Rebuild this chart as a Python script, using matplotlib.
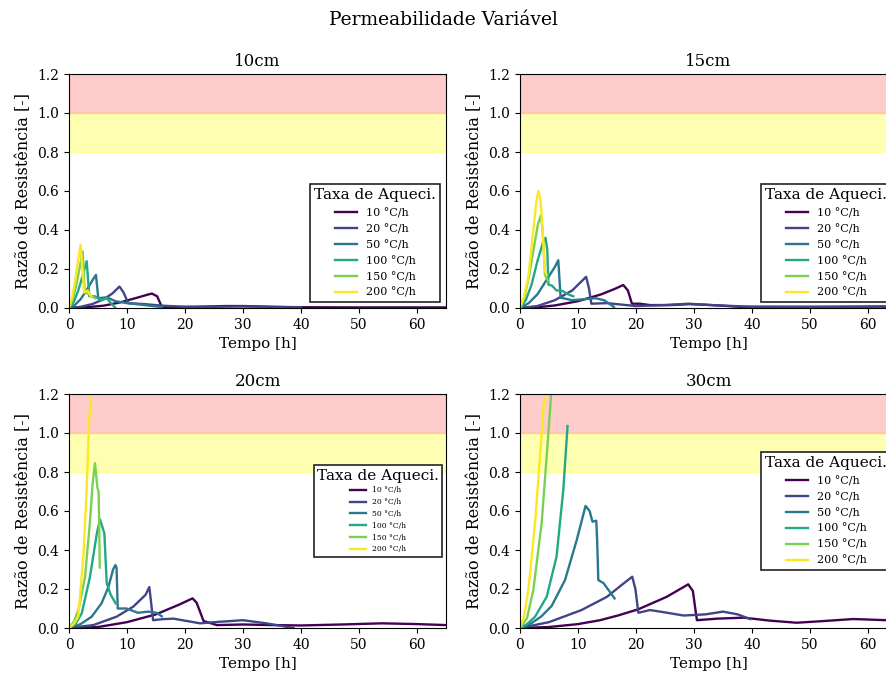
import numpy as np
import matplotlib
matplotlib.use("Agg")
import matplotlib.pyplot as plt

plt.rcParams['font.family'] = ['DejaVu Serif']

rates = ["10 °C/h", "20 °C/h", "50 °C/h", "100 °C/h", "150 °C/h", "200 °C/h"]
panel_titles = ["10cm", "15cm", "20cm", "30cm"]
suptitle = "Permeabilidade Variável"
xlabel = "Tempo [h]"
ylabel = "Razão de Resistência [-]"
legend_title = "Taxa de Aqueci."

# ---- 10cm ----
t10_10 = [0, 3, 6, 9, 12, 13.5, 14.3, 15.2, 16.0, 18, 22, 27, 30, 35, 40, 50, 65]
r10_10 = [0, 0.004, 0.012, 0.03, 0.055, 0.068, 0.074, 0.06, 0.006, 0.005, 0.006, 0.01, 0.01, 0.006, 0.004, 0.003, 0.003]
t10_20 = [0, 2, 4, 6, 7.5, 8.7, 9.4, 10.2, 13, 16, 20, 25, 30, 40]
r10_20 = [0, 0.006, 0.02, 0.045, 0.075, 0.11, 0.08, 0.025, 0.02, 0.012, 0.006, 0.006, 0.008, 0.003]
t10_50 = [0, 1, 2, 3, 4, 4.65, 5.05, 6.5, 8, 10, 13, 16]
r10_50 = [0, 0.015, 0.045, 0.09, 0.14, 0.17, 0.05, 0.055, 0.035, 0.025, 0.015, 0.005]
t10_100 = [0, 0.8, 1.6, 2.4, 3.05, 3.5, 4.5, 5.5, 6.5, 8.0]
r10_100 = [0, 0.03, 0.09, 0.17, 0.24, 0.06, 0.06, 0.04, 0.05, 0.0]
t10_150 = [0, 0.6, 1.2, 1.8, 2.36, 2.7, 3.5, 4.5]
r10_150 = [0, 0.04, 0.11, 0.2, 0.29, 0.08, 0.07, 0.05]
t10_200 = [0, 0.5, 1.0, 1.5, 2.0, 2.6, 3.2, 3.8]
r10_200 = [0, 0.05, 0.13, 0.23, 0.325, 0.08, 0.09, 0.06]

# ---- 15cm ----
t15_10 = [0, 3, 6, 10, 14, 16.5, 17.8, 18.6, 19.3, 20.7, 22.4, 26, 29.3, 33, 38, 50, 63, 65]
r15_10 = [0, 0.004, 0.013, 0.035, 0.07, 0.1, 0.118, 0.09, 0.022, 0.022, 0.015, 0.015, 0.02, 0.015, 0.006, 0.006, 0.008, 0.008]
t15_20 = [0, 3, 6, 9, 11.4, 11.9, 12.3, 15, 20, 25, 29, 33, 40, 65]
r15_20 = [0, 0.01, 0.04, 0.09, 0.16, 0.1, 0.022, 0.025, 0.01, 0.015, 0.022, 0.015, 0.006, 0.004]
t15_50 = [0, 1.5, 3, 4.5, 6.0, 6.6, 7.0, 9, 11, 13, 14.5, 16.2]
r15_50 = [0, 0.025, 0.07, 0.14, 0.21, 0.245, 0.053, 0.04, 0.045, 0.05, 0.04, 0.005]
t15_100 = [0, 1, 2, 3, 4.0, 4.4, 4.7, 4.9, 5.5, 6.3, 7.3, 8.3, 9.2]
r15_100 = [0, 0.04, 0.12, 0.24, 0.34, 0.36, 0.3, 0.12, 0.115, 0.09, 0.088, 0.07, 0.06]
t15_150 = [0, 0.8, 1.6, 2.4, 3.1, 3.6, 3.9, 4.3, 4.8]
r15_150 = [0, 0.06, 0.17, 0.31, 0.43, 0.475, 0.4, 0.17, 0.14]
t15_200 = [0, 0.7, 1.44, 2.3, 2.8, 3.16, 3.5, 3.74, 4.3, 4.6]
r15_200 = [0, 0.06, 0.16, 0.40, 0.54, 0.60, 0.56, 0.48, 0.19, 0.17]

# ---- 20cm ----
t20_10 = [0, 5, 10, 15, 19, 21.3, 22.0, 23.2, 25.5, 30, 35, 40, 47, 54, 60, 65]
r20_10 = [0, 0.005, 0.03, 0.07, 0.12, 0.152, 0.13, 0.036, 0.015, 0.018, 0.015, 0.013, 0.018, 0.024, 0.02, 0.015]
t20_20 = [0, 4.2, 8.2, 11.1, 13.2, 13.85, 14.5, 16, 18, 22.6, 26, 30, 34, 38.7]
r20_20 = [0, 0.015, 0.058, 0.11, 0.17, 0.21, 0.04, 0.045, 0.048, 0.024, 0.032, 0.04, 0.024, 0.0]
t20_50 = [0, 2, 3.9, 5.6, 6.8, 7.6, 8.0, 8.2, 8.4, 9.9, 11.9, 13.7, 15.1, 16.0]
r20_50 = [0, 0.02, 0.058, 0.126, 0.21, 0.3, 0.323, 0.31, 0.1, 0.1, 0.078, 0.084, 0.078, 0.06]
t20_100 = [0, 1.2, 2.2, 3.6, 4.8, 5.34, 6.1, 6.5, 7.2, 8.05]
r20_100 = [0, 0.025, 0.075, 0.26, 0.485, 0.557, 0.485, 0.23, 0.17, 0.126]
t20_150 = [0, 0.8, 1.6, 2.76, 3.6, 4.1, 4.48, 4.9, 5.1, 5.2, 5.3]
r20_150 = [0, 0.03, 0.09, 0.26, 0.54, 0.75, 0.845, 0.72, 0.70, 0.55, 0.31]
t20_200 = [0, 0.8, 1.6, 2.47, 3.05, 3.45, 3.8, 4.0]
r20_200 = [0, 0.02, 0.058, 0.366, 0.71, 1.05, 1.19, 1.3]

# ---- 30cm ----
t30_10 = [0, 5, 10, 13.8, 17, 20.4, 25.3, 28.2, 29.0, 29.8, 30.5, 34, 38.6, 43, 47.7, 52, 57.5, 63.2, 66]
r30_10 = [0, 0.005, 0.02, 0.04, 0.065, 0.096, 0.16, 0.21, 0.224, 0.19, 0.04, 0.048, 0.053, 0.038, 0.027, 0.035, 0.046, 0.04, 0.04]
t30_20 = [0, 5, 10.6, 15, 17.5, 19.35, 19.9, 20.4, 22.4, 25, 28.2, 32, 35, 37.5, 39.7]
r30_20 = [0, 0.03, 0.092, 0.16, 0.22, 0.263, 0.2, 0.078, 0.092, 0.08, 0.064, 0.07, 0.084, 0.07, 0.046]
t30_50 = [0, 2, 3.7, 5.46, 7.76, 9.77, 11.3, 12.0, 12.5, 13.15, 13.3, 13.5, 14.4, 16.3]
r30_50 = [0, 0.025, 0.06, 0.113, 0.246, 0.45, 0.626, 0.6, 0.545, 0.55, 0.45, 0.246, 0.23, 0.152]
t30_100 = [0, 1.2, 2.6, 4.6, 6.3, 7.47, 8.2]
r30_100 = [0, 0.02, 0.058, 0.16, 0.366, 0.71, 1.036]
t30_150 = [0, 1.2, 2.3, 3.74, 4.6, 5.35, 5.6]
r30_150 = [0, 0.05, 0.195, 0.54, 0.88, 1.19, 1.3]
t30_200 = [0, 0.7, 1.44, 2.6, 3.45, 4.2, 4.4]
r30_200 = [0, 0.06, 0.195, 0.54, 0.88, 1.19, 1.3]

panels = [
    [(t10_10, r10_10), (t10_20, r10_20), (t10_50, r10_50), (t10_100, r10_100), (t10_150, r10_150), (t10_200, r10_200)],
    [(t15_10, r15_10), (t15_20, r15_20), (t15_50, r15_50), (t15_100, r15_100), (t15_150, r15_150), (t15_200, r15_200)],
    [(t20_10, r20_10), (t20_20, r20_20), (t20_50, r20_50), (t20_100, r20_100), (t20_150, r20_150), (t20_200, r20_200)],
    [(t30_10, r30_10), (t30_20, r30_20), (t30_50, r30_50), (t30_100, r30_100), (t30_150, r30_150), (t30_200, r30_200)],
]

colors = plt.cm.viridis(np.linspace(0, 1, len(rates)))

W, H = 887, 677
fig = plt.figure(figsize=(W / 100, H / 100), dpi=100)

boxes = [(69, 74), (520, 74), (69, 394), (520, 394)]
aw, ah = 377, 234
legend_locs = ["lower right", "lower right", "center right", "center right"]
legend_fs = [8, 8, 5.5, 8]

for i, (x0, y0) in enumerate(boxes):
    ax = fig.add_axes([x0 / W, (H - y0 - ah) / H, aw / W, ah / H])
    ax.axhspan(1.0, 1.2, color="red", alpha=0.2)
    ax.axhspan(0.8, 1.0, color="yellow", alpha=0.3)
    for (t, r), c, lab in zip(panels[i], colors, rates):
        ax.plot(t, r, color=c, lw=1.7, label=lab)
    ax.set_xlim(0, 65)
    ax.set_ylim(0, 1.2)
    ax.set_xticks([0, 10, 20, 30, 40, 50, 60])
    ax.set_yticks([0, 0.2, 0.4, 0.6, 0.8, 1.0, 1.2])
    ax.tick_params(labelsize=10)
    ax.set_title(panel_titles[i], fontsize=12)
    ax.set_xlabel(xlabel, fontsize=11)
    ax.set_ylabel(ylabel, fontsize=11.5)
    leg = ax.legend(title=legend_title, loc=legend_locs[i], fontsize=legend_fs[i],
                    title_fontsize=11, fancybox=False, framealpha=1,
                    edgecolor="#222222")
    leg.get_frame().set_linewidth(1.2)

fig.text(0.5, 1 - 20 / H, suptitle, ha="center", va="center", fontsize=13.5)

fig.savefig("out.png", dpi=100)
